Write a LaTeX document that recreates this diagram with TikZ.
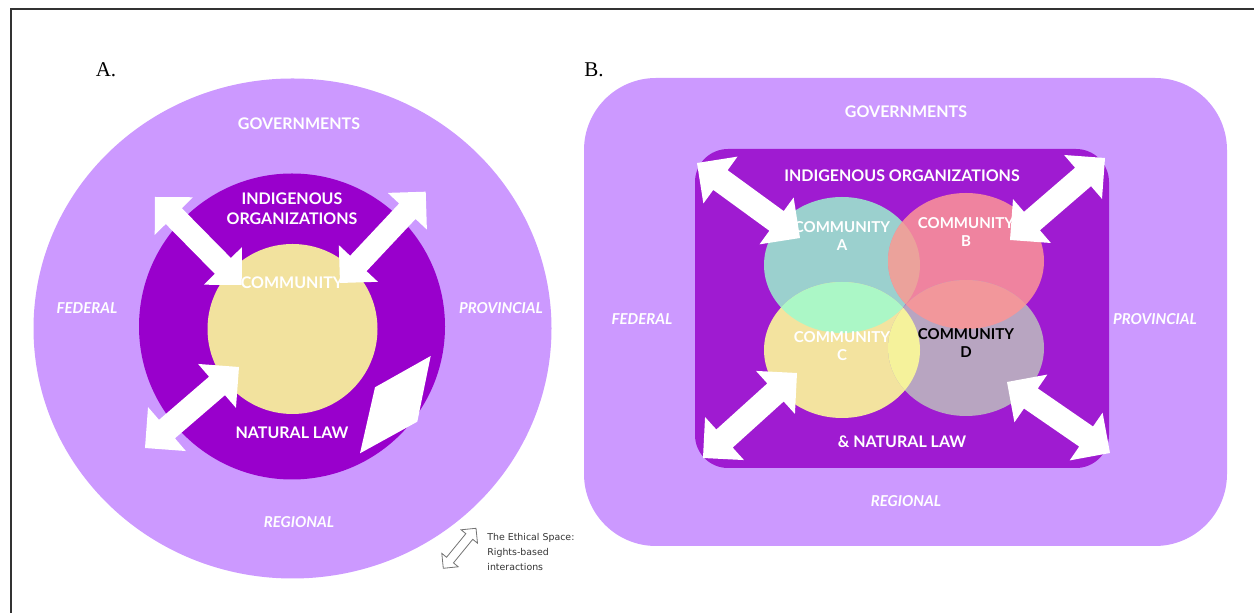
\documentclass[tikz,border=0pt]{standalone}
\usepackage{fontspec}
\setmainfont{Liberation Serif}
\setsansfont{Lato}
\newfontfamily\legendfont{DejaVu Sans}
\usetikzlibrary{calc}

\definecolor{govlilac}{HTML}{CC99FF}
\definecolor{orgpurpleA}{HTML}{9900CC}
\definecolor{orgpurpleB}{HTML}{9F1BD1}
\definecolor{commyellow}{HTML}{F2E29E}
\definecolor{commA}{HTML}{9BD0CE}
\definecolor{commB}{HTML}{EF839F}
\definecolor{commC}{HTML}{F3E39F}
\definecolor{commD}{HTML}{B8A5C1}
\definecolor{ovAB}{HTML}{EBA29B}
\definecolor{ovAC}{HTML}{ABF7C6}
\definecolor{ovBD}{HTML}{F2979B}
\definecolor{ovCD}{HTML}{F5F29B}

% double block arrow from #2 to #3, #4 = head size in pt
\newcommand{\blockarrow}[4]{%
  \pgfmathsetmacro\barbdist{1.414*#4}%
  \pgfmathsetmacro\shaftdist{1.085*#4}%
  \path[#1] (#2) -- ($(#2)!\barbdist pt!45:(#3)$) -- ($(#2)!\shaftdist pt!22.8:(#3)$)
    -- ($(#3)!\shaftdist pt!-22.8:(#2)$) -- ($(#3)!\barbdist pt!-45:(#2)$) -- (#3)
    -- ($(#3)!\barbdist pt!45:(#2)$) -- ($(#3)!\shaftdist pt!22.8:(#2)$)
    -- ($(#2)!\shaftdist pt!-22.8:(#3)$) -- ($(#2)!\barbdist pt!-45:(#3)$) -- cycle;}

\begin{document}
\begin{tikzpicture}[x=0.5pt,y=-0.5pt,
  heading/.style={font=\sffamily\bfseries\fontsize{8}{10}\selectfont,text=white,align=center,inner sep=0pt},
  level/.style={font=\sffamily\bfseries\itshape\fontsize{7.5}{9}\selectfont,text=white,inner sep=0pt},
  comm/.style={font=\sffamily\bfseries\fontsize{7.5}{9}\selectfont,text=white,align=center,inner sep=0pt},
  panel/.style={font=\fontsize{10.5}{12}\selectfont,inner sep=0pt},
  legend/.style={font=\legendfont\fontsize{4.7}{7.5}\selectfont,text=black!80,align=left,inner sep=0pt}]

  \useasboundingbox (0,0) rectangle (1254,613);
  \draw[line width=0.6pt,black!80] (11,613) -- (11,9) -- (1254,9);

  % A.
  \node[panel] (panA) at (106,70) {A.};
  \fill[govlilac] (292.5,328.5) ellipse [x radius=129.5pt, y radius=125pt];
  \fill[orgpurpleA] (292,326.5) circle (76.5pt);
  \fill[commyellow] (292.5,329) circle (42.5pt);

  \coordinate (a1) at (155,197);   \coordinate (a2) at (241.7,285);
  \coordinate (a3) at (340,283);   \coordinate (a4) at (425.7,191.7);
  \coordinate (a5) at (145,448);   \coordinate (a6) at (239,367);
  \blockarrow{fill=white}{a1}{a2}{13.4}
  \blockarrow{fill=white}{a3}{a4}{13.4}
  \blockarrow{fill=white}{a5}{a6}{14.5}
  \fill[white] (430.7,356) -- (417.3,421.7) -- (360,453.3) -- (375,387.3) -- cycle;

  \node[heading] (govA) at (299,124) {GOVERNMENTS};
  \node[heading] (orgA) at (292,209) {INDIGENOUS\\ORGANIZATIONS};
  \node[heading] (comA) at (292,283) {COMMUNITY};
  \node[heading] (lawA) at (292,433) {NATURAL LAW};
  \node[level] (fedA) at (87,308) {FEDERAL};
  \node[level] (proA) at (501,308) {PROVINCIAL};
  \node[level] (regA) at (299,522) {REGIONAL};

  % legend
  \coordinate (l1) at (443.3,568.3); \coordinate (l2) at (476,528.3);
  \blockarrow{draw=black!55,fill=white,line width=0.4pt}{l1}{l2}{5.3}
  \node[legend,anchor=north west] (leg) at (487,533) {The Ethical Space:\\Rights-based\\interactions};

  % B.
  \node[panel] (panB) at (594,70) {B.};
  \fill[govlilac,rounded corners=36pt] (584,78) rectangle (1227,546);
  \fill[orgpurpleB,rounded corners=16.5pt] (695,149) rectangle (1109,468);

  \coordinate (ca) at (842,265); \coordinate (cb) at (966,261);
  \coordinate (cc) at (842,350); \coordinate (cd) at (966,348);
  \fill[commA] (ca) ellipse [x radius=39pt, y radius=34pt];
  \fill[commB] (cb) ellipse [x radius=39pt, y radius=34pt];
  \fill[commC] (cc) ellipse [x radius=39pt, y radius=34pt];
  \fill[commD] (cd) ellipse [x radius=39pt, y radius=34pt];
  \begin{scope}
    \clip (ca) ellipse [x radius=39pt, y radius=34pt];
    \fill[ovAB] (cb) ellipse [x radius=39pt, y radius=34pt];
    \fill[ovAC] (cc) ellipse [x radius=39pt, y radius=34pt];
  \end{scope}
  \begin{scope}
    \clip (cd) ellipse [x radius=39pt, y radius=34pt];
    \fill[ovCD] (cc) ellipse [x radius=39pt, y radius=34pt];
    \fill[ovBD] (cb) ellipse [x radius=39pt, y radius=34pt];
  \end{scope}

  \coordinate (b1) at (697,163);  \coordinate (b2) at (800,238);
  \coordinate (b3) at (1010,240); \coordinate (b4) at (1105,158);
  \coordinate (b5) at (703,458);  \coordinate (b6) at (797,373);
  \coordinate (b7) at (1007,382); \coordinate (b8) at (1110,453);
  \blockarrow{fill=white}{b1}{b2}{14.5}
  \blockarrow{fill=white}{b3}{b4}{14.5}
  \blockarrow{fill=white}{b5}{b6}{14.5}
  \blockarrow{fill=white}{b7}{b8}{14.5}

  \node[heading] (govB) at (906,112) {GOVERNMENTS};
  \node[heading] (orgB) at (902,176) {INDIGENOUS ORGANIZATIONS};
  \node[comm] (comBA) at (842,236) {COMMUNITY\\A};
  \node[comm] (comBB) at (966,232.5) {COMMUNITY\\B};
  \node[comm] (comBC) at (842,346.5) {COMMUNITY\\C};
  \node[comm,text=black] (comBD) at (966,343.5) {COMMUNITY\\D};
  \node[heading] (lawB) at (902,442) {\& NATURAL LAW};
  \node[level] (fedB) at (642,319) {FEDERAL};
  \node[level] (proB) at (1155,319) {PROVINCIAL};
  \node[level] (regB) at (906,501) {REGIONAL};
\end{tikzpicture}
\end{document}
